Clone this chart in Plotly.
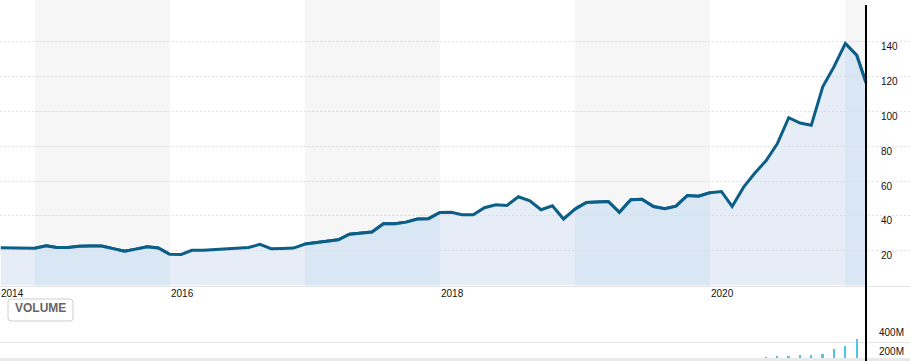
import plotly.graph_objects as go
import pandas as pd

# ---------------- data ----------------
dates = list(pd.date_range('2014-10-01', '2021-02-01', freq='MS').strftime('%Y-%m-%d')) + ['2021-02-26']
prices = [
    21.7, 21.5, 21.4,                                                   # Oct-Dec 2014
    21.4, 22.8, 21.8, 21.8, 22.6, 22.7, 22.7, 21.2, 19.7, 20.9, 22.2, 21.6,   # 2015
    17.9, 17.8, 20.2, 20.2, 20.5, 20.8, 21.5, 21.8, 23.6, 21.1, 21.3, 21.5,   # 2016
    23.8, 24.6, 25.3, 26.3, 29.5, 30.3, 30.7, 35.5, 35.5, 36.4, 38.2, 38.4,   # 2017
    42.0, 42.1, 40.6, 40.6, 44.7, 46.4, 46.0, 51.0, 48.7, 43.5, 45.8, 38.2,   # 2018
    43.9, 47.7, 48.0, 48.3, 42.0, 49.3, 49.6, 45.4, 44.1, 45.6, 51.7, 51.3,   # 2019
    53.3, 54.0, 45.4, 56.5, 64.5, 71.8, 81.4, 96.4, 93.3, 92.0, 114.1, 125.5, # 2020
    139.0, 132.3, 116.5,                                                # 2021
]
vol_dates = ['2020-06-01', '2020-07-01', '2020-08-01', '2020-09-01', '2020-10-01',
             '2020-11-01', '2020-12-01', '2021-01-01', '2021-02-01']
vol_millions = [42, 53, 56, 66, 66, 77, 123, 158, 232]

price_ticks = [20, 40, 60, 80, 100, 120, 140]
vol_ticks = [200, 400]
vol_tick_labels = ['200M', '400M']
year_labels = ['2014', '2016', '2018', '2020']
year_label_dates = ['2014-09-29', '2016-01-01', '2018-01-01', '2020-01-01']
band_starts = ['2015-01-01', '2017-01-01', '2019-01-01', '2021-01-01']
band_ends = ['2016-01-01', '2018-01-01', '2020-01-01', '2021-02-26']
x_range = ['2014-09-29', '2021-06-25']

# ---------------- style ----------------
W, H = 910, 361
LINE = '#0a5e88'
FILL_LIGHT = 'rgba(200,215,235,0.45)'
FILL_DARK = 'rgba(210,227,248,0.5)'
BAND_GRAY = '#f6f6f6'
FONT = 'Liberation Sans, Arial, sans-serif'

def px_x(p):
    return p / W

def px_y(p):
    return 1 - p / H

t0, t1 = pd.Timestamp(x_range[0]), pd.Timestamp(x_range[1])

def frac(d):
    return (pd.Timestamp(d) - t0) / (t1 - t0)

main_bottom = px_y(285.5)
vol_top = px_y(323)

fig = go.Figure()

# main area (light fill + line)
fig.add_trace(go.Scatter(x=dates, y=prices, mode='lines', fill='tozeroy',
                         fillcolor=FILL_LIGHT, line=dict(color=LINE, width=3),
                         xaxis='x', yaxis='y', hoverinfo='skip', showlegend=False))

layout_axes = {}
# band subplots: same data, clipped to each shaded year
for i, (b0, b1) in enumerate(zip(band_starts, band_ends)):
    ax_id = i + 2
    fig.add_trace(go.Scatter(x=dates, y=prices, mode='lines', fill='tozeroy',
                             fillcolor=FILL_DARK, line=dict(color=LINE, width=3),
                             xaxis=f'x{ax_id}', yaxis='y', hoverinfo='skip', showlegend=False))
    layout_axes[f'xaxis{ax_id}'] = dict(domain=[frac(b0), frac(b1)], range=[b0, b1], type='date',
                                        visible=False, anchor='y', fixedrange=True)

# volume bars
fig.add_trace(go.Bar(x=vol_dates, y=[v * 1e6 for v in vol_millions], marker=dict(color='#4fc3e8', line=dict(width=0)),
                     width=5.4 * 86400000, xaxis='x', yaxis='y2', hoverinfo='skip', showlegend=False))

shapes = []
for b0, b1 in zip(band_starts, band_ends):
    shapes.append(dict(type='rect', xref='x', yref='paper', x0=b0, x1=b1, y0=main_bottom, y1=1,
                       fillcolor=BAND_GRAY, line=dict(width=0), layer='below'))
# bottom strip
shapes.append(dict(type='rect', xref='paper', yref='paper', x0=0, x1=1, y0=0, y1=px_y(358),
                   fillcolor='#e9e9e9', line=dict(width=0), layer='above'))
# end-of-data marker line
shapes.append(dict(type='line', xref='x', yref='paper', x0=dates[-1], x1=dates[-1], y0=0, y1=px_y(5),
                   line=dict(color='#000000', width=2), layer='above'))

# VOLUME button (rounded rectangle)
bx0, by0, bx1, by1, r = 8, 299, 73, 321, 3
path = (f'M {px_x(bx0 + r)},{px_y(by0)} L {px_x(bx1 - r)},{px_y(by0)} '
        f'Q {px_x(bx1)},{px_y(by0)} {px_x(bx1)},{px_y(by0 + r)} '
        f'L {px_x(bx1)},{px_y(by1 - r)} Q {px_x(bx1)},{px_y(by1)} {px_x(bx1 - r)},{px_y(by1)} '
        f'L {px_x(bx0 + r)},{px_y(by1)} Q {px_x(bx0)},{px_y(by1)} {px_x(bx0)},{px_y(by1 - r)} '
        f'L {px_x(bx0)},{px_y(by0 + r)} Q {px_x(bx0)},{px_y(by0)} {px_x(bx0 + r)},{px_y(by0)} Z')
shapes.append(dict(type='path', xref='paper', yref='paper', path=path, fillcolor='#ffffff',
                   line=dict(color='#cfcfcf', width=1), layer='above'))

annotations = []
for t in price_ticks:
    annotations.append(dict(x=px_x(879), xref='paper', y=t, yref='y', text=str(t), showarrow=False,
                            xanchor='left', yanchor='middle', yshift=-5,
                            font=dict(family=FONT, size=10, color='#111111')))
for t, lab in zip(vol_ticks, vol_tick_labels):
    annotations.append(dict(x=px_x(877), xref='paper', y=t * 1e6, yref='y2', text=lab, showarrow=False,
                            xanchor='left', yanchor='middle', yshift=-9,
                            font=dict(family=FONT, size=10, color='#111111')))
for d, lab in zip(year_label_dates, year_labels):
    annotations.append(dict(x=d, xref='x', y=px_y(293), yref='paper', text=lab, showarrow=False,
                            xanchor='left', yanchor='middle', xshift=-1,
                            font=dict(family=FONT, size=10, color='#111111')))
annotations.append(dict(x=px_x(40.5), xref='paper', y=px_y(308), yref='paper', text='<b>VOLUME</b>',
                        showarrow=False, xanchor='center', yanchor='middle',
                        font=dict(family=FONT, size=12, color='#666666')))

fig.update_layout(
    width=W, height=H,
    margin=dict(l=0, r=0, t=0, b=0),
    paper_bgcolor='#ffffff', plot_bgcolor='rgba(0,0,0,0)',
    showlegend=False,
    xaxis=dict(type='date', range=x_range, domain=[0, 1], anchor='y', showgrid=False,
               showticklabels=False, ticks='', showline=True, linecolor='#e2e2e2', linewidth=1,
               zeroline=False, fixedrange=True),
    yaxis=dict(domain=[main_bottom, 1], range=[0, 164], anchor='x', tickvals=price_ticks,
               showticklabels=False, ticks='', showgrid=True, gridcolor='#e2e2e2', gridwidth=1,
               griddash='2px,2px', zeroline=False, showline=False, fixedrange=True),
    yaxis2=dict(domain=[0, vol_top], range=[0, 400e6], anchor='x', tickvals=[v * 1e6 for v in vol_ticks],
                showticklabels=False, ticks='', showgrid=True, gridcolor='#e6e6e6', gridwidth=1,
                zeroline=False, showline=False, fixedrange=True),
    shapes=shapes,
    annotations=annotations,
    bargap=0,
    **layout_axes,
)

fig.write_html('out.html', config={'displayModeBar': False},
               post_script="document.body.style.margin='0px';document.body.style.overflow='hidden';")
